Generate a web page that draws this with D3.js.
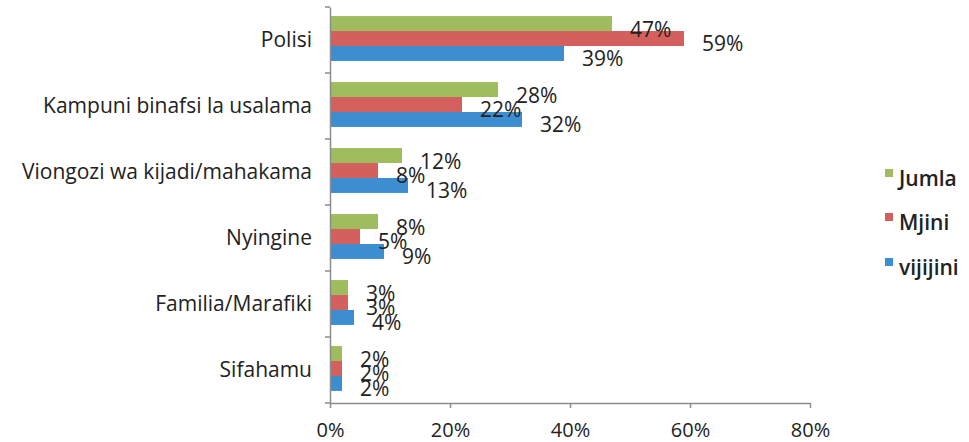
<!DOCTYPE html>
<html>
<head>
<meta charset="utf-8">
<script src="https://cdn.jsdelivr.net/npm/d3@7"></script>
<style>
  body { margin: 0; background: #fff; }
  svg { display: block; }
</style>
</head>
<body>
<svg></svg>
<script>
// categories and series
let categories = [
  "Polisi",
  "Kampuni binafsi la usalama",
  "Viongozi wa kijadi/mahakama",
  "Nyingine",
  "Familia/Marafiki",
  "Sifahamu"
];
let series = ["Jumla", "Mjini", "vijijini"];
let jumla = [47, 28, 12, 8, 3, 2];
let mjini = [59, 22, 8, 5, 3, 2];
let vijijini = [39, 32, 13, 9, 4, 2];
let xTicks = [0, 20, 40, 60, 80];

let colors = ["#9fbd5f", "#d4605e", "#3d8ed1"];
let values = [jumla, mjini, vijijini];

let w = 969;
let h = 442;
let plotLeft = 330;
let plotRight = 810;
let plotTop = 7;
let plotBottom = 403;
let font = "'Open Sans', Lato, sans-serif";

let svg = d3.select("svg").attr("width", w).attr("height", h);

let xScale = d3.scaleLinear().domain([0, 80]).range([plotLeft, plotRight]);
let yScale = d3
  .scaleBand()
  .domain(categories)
  .range([plotTop, plotBottom])
  .paddingInner(0.32)
  .paddingOuter(0.16);
let subScale = d3
  .scaleBand()
  .domain(series)
  .range([0, yScale.bandwidth()]);

// bars
let groups = svg
  .selectAll("g.cat")
  .data(categories)
  .enter()
  .append("g")
  .attr("class", "cat")
  .attr("transform", (d) => `translate(0, ${yScale(d) - 1.5})`);

groups
  .selectAll("rect")
  .data((d, i) => series.map((s, j) => ({ s: s, v: values[j][i], c: colors[j] })))
  .enter()
  .append("rect")
  .attr("x", xScale(0))
  .attr("y", (d) => subScale(d.s))
  .attr("width", (d) => xScale(d.v) - xScale(0))
  .attr("height", subScale.bandwidth())
  .attr("fill", (d) => d.c);

groups
  .selectAll("text")
  .data((d, i) => series.map((s, j) => ({ s: s, v: values[j][i] })))
  .enter()
  .append("text")
  .attr("x", (d) => xScale(d.v) + 18)
  .attr("y", (d) => subScale(d.s) + subScale.bandwidth() / 2 + 5)
  .attr("dominant-baseline", "central")
  .attr("font-family", font)
  .attr("font-size", 21)
  .attr("fill", "#222")
  .text((d) => d.v + "%");

// axes
let yAxis = d3.axisLeft(yScale).tickSize(0).tickPadding(18);
let yg = svg.append("g").attr("transform", `translate(${plotLeft}, 0)`).call(yAxis);
yg.select(".domain").attr("stroke", "#8c8c8c").attr("stroke-width", 1.5);
yg.selectAll("text")
  .attr("font-family", font)
  .attr("font-size", 21)
  .attr("fill", "#222");

// category separators on the y axis
let bounds = categories.map((c) => yScale(c) - yScale.step() * 0.16).concat([plotBottom]);
svg
  .selectAll("line.ytick")
  .data(bounds)
  .enter()
  .append("line")
  .attr("x1", plotLeft - 5)
  .attr("x2", plotLeft)
  .attr("y1", (d) => d)
  .attr("y2", (d) => d)
  .attr("stroke", "#8c8c8c")
  .attr("stroke-width", 1.5);

let xAxis = d3
  .axisBottom(xScale)
  .tickValues(xTicks)
  .tickFormat((d) => d + "%")
  .tickSizeInner(5)
  .tickSizeOuter(0)
  .tickPadding(15);
let xg = svg.append("g").attr("transform", `translate(0, ${plotBottom})`).call(xAxis);
xg.select(".domain").attr("stroke", "#8c8c8c").attr("stroke-width", 1.5);
xg.selectAll(".tick line").attr("stroke", "#8c8c8c").attr("stroke-width", 1.5);
xg.selectAll("text")
  .attr("font-family", font)
  .attr("font-size", 20)
  .attr("fill", "#222");

// legend
let legendY = [178, 222, 267];
let legend = svg
  .selectAll("g.legend")
  .data(series)
  .enter()
  .append("g")
  .attr("class", "legend")
  .attr("transform", (d, i) => `translate(885, ${legendY[i]})`);
legend
  .append("rect")
  .attr("x", 0)
  .attr("y", -9)
  .attr("width", 8)
  .attr("height", 8)
  .attr("fill", (d, i) => colors[i]);
legend
  .append("text")
  .attr("x", 14)
  .attr("y", 0)
  .attr("dominant-baseline", "central")
  .attr("font-family", font)
  .attr("font-size", 21)
  .attr("font-weight", 600)
  .attr("fill", "#222")
  .text((d) => d);
</script>
</body>
</html>
